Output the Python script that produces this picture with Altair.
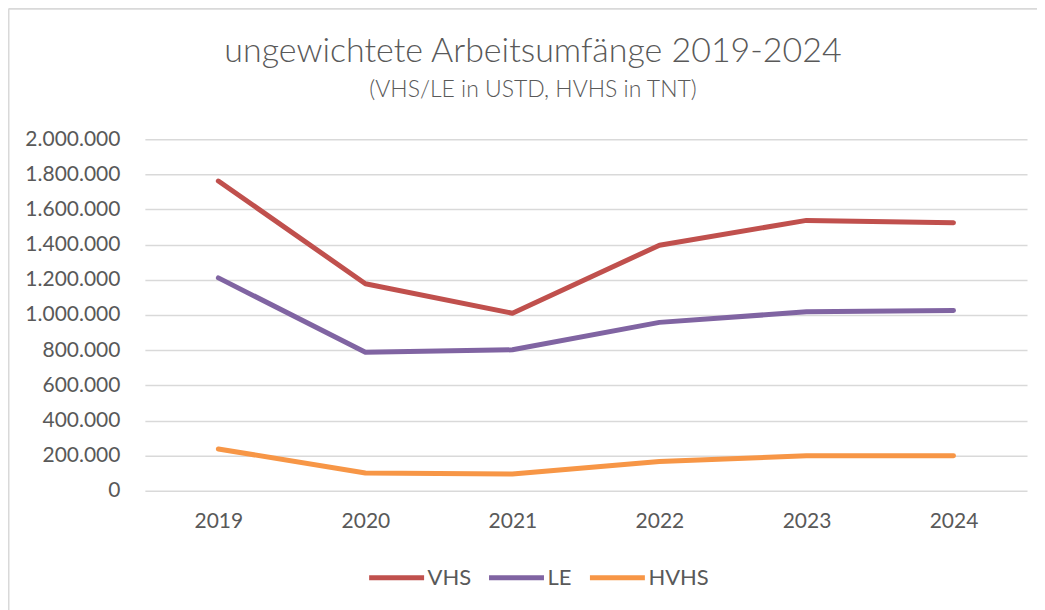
import altair as alt
import pandas as pd

years = ["2019", "2020", "2021", "2022", "2023", "2024"]
vhs = [1762000, 1178000, 1010000, 1397000, 1538000, 1525000]
le = [1211000, 788000, 802000, 958000, 1018000, 1025000]
hvhs = [238000, 101000, 96000, 167000, 199000, 199000]
series = ["VHS", "LE", "HVHS"]
colors = ["#C0504D", "#8064A2", "#F79646"]

rows = []
for name, vals in zip(series, [vhs, le, hvhs]):
    for y, v in zip(years, vals):
        rows.append({"Jahr": y, "Wert": v, "Reihe": name})
df = pd.DataFrame(rows)

W, H = 883, 352
PL, PT = 137, 131
FONT = "Lato"
GREY = "#595959"

lines = alt.Chart(df).mark_line(strokeWidth=5, strokeCap="round", strokeJoin="round").encode(
    x=alt.X("Jahr:N", sort=years, scale=alt.Scale(type="point", padding=0.5),
            axis=alt.Axis(title=None, labelAngle=0, ticks=False, domain=False, grid=False,
                          labelPadding=20, labelFontSize=21, labelColor=GREY, labelFont=FONT)),
    y=alt.Y("Wert:Q", scale=alt.Scale(domain=[0, 2000000], nice=False),
            axis=alt.Axis(title=None, values=list(range(0, 2000001, 200000)),
                          format=",.0f", ticks=False, domain=False,
                          gridColor="#D9D9D9", gridWidth=1.5,
                          labelPadding=25, labelFontSize=21, labelColor=GREY, labelFont=FONT)),
    color=alt.Color("Reihe:N", sort=series, scale=alt.Scale(domain=series, range=colors),
                    legend=alt.Legend(title=None, orient="none", direction="horizontal",
                                      legendX=222, legendY=409,
                                      symbolType="stroke", symbolSize=3025, symbolStrokeWidth=5,
                                      labelFontSize=22, labelColor=GREY, labelFont=FONT,
                                      labelOffset=1, columnPadding=7)),
)

border = alt.Chart(pd.DataFrame({"a": [0]})).mark_rule(color="#D9D9D9", strokeWidth=2, clip=False).encode(
    x=alt.value(-PL + 0.5), x2=alt.value(W + 20), y=alt.value(-PT + 0.5)
)
border2 = alt.Chart(pd.DataFrame({"a": [0]})).mark_rule(color="#D9D9D9", strokeWidth=2, clip=False).encode(
    x=alt.value(-PL + 0.5), y=alt.value(-PT + 0.5), y2=alt.value(H + 200)
)

chart = alt.layer(border, border2, lines).properties(
    width=W, height=H,
    padding={"left": PL, "top": PT, "right": 10, "bottom": 120},
    autosize=alt.AutoSizeParams(type="none"),
    title=alt.TitleParams(
        text="ungewichtete Arbeitsumfänge 2019-2024",
        subtitle="(VHS/LE in USTD, HVHS in TNT)",
        font=FONT, fontSize=34, fontWeight=300, color=GREY,
        subtitleFont=FONT, subtitleFontSize=23, subtitleFontWeight=300, subtitleColor=GREY,
        subtitlePadding=10,
        anchor="middle", frame="group", dx=-53, offset=-94,
    ),
).configure(
    locale={"number": {"decimal": ",", "thousands": ".", "grouping": [3], "currency": ["", " €"]}}
).configure_view(stroke=None)

chart.save("out.html", embed_options={"renderer": "svg", "actions": False})
